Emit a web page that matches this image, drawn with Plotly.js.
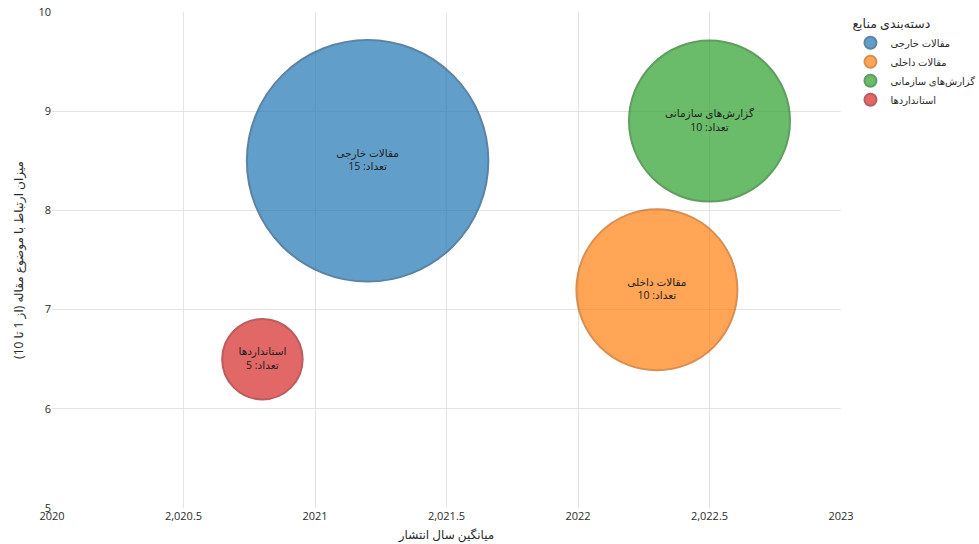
<!DOCTYPE html>
<html>
<head>
<meta charset="utf-8">
<script src="https://cdn.plot.ly/plotly-3.0.1.min.js"></script>
<style>
  html, body { margin: 0; padding: 0; background: #fff; }
  #chart { width: 979px; height: 544px; }
</style>
</head>
<body>
<div id="chart"></div>
<script>
// Source categories and their bubble data
const categories = ['مقالات خارجی', 'مقالات داخلی', 'گزارش‌های سازمانی', 'استانداردها'];
const avgYear = [2021.2, 2022.3, 2022.5, 2020.8];
const relevance = [8.5, 7.2, 8.9, 6.5];
const counts = [15, 10, 10, 5];
const colors = ['#1f77b4', '#ff7f0e', '#2ca02c', '#d62728'];
const edgeColors = ['#17507d', '#c9600a', '#1d741d', '#9e1a1b'];

const traces = categories.map((name, i) => ({
  type: 'scatter',
  mode: 'markers+text',
  name: name,
  x: [avgYear[i]],
  y: [relevance[i]],
  text: [name + '<br>تعداد: ' + counts[i]],
  textposition: 'middle center',
  textfont: { size: 10.5, color: '#1e1e1e' },
  marker: {
    size: [counts[i]],
    sizemode: 'diameter',
    sizeref: 1 / 16.1,
    color: colors[i],
    opacity: 0.7,
    line: { width: 2, color: edgeColors[i] }
  },
  hoverinfo: 'text'
}));

const layout = {
  width: 979,
  height: 544,
  margin: { l: 52, r: 138, t: 12, b: 36, autoexpand: false },
  paper_bgcolor: '#fff',
  plot_bgcolor: '#fff',
  font: { family: '"Open Sans", "DejaVu Sans", sans-serif', size: 11, color: '#2a2a2a' },
  xaxis: {
    range: [2020, 2023],
    dtick: 0.5,
    showgrid: true,
    gridcolor: '#e3e3e3',
    zeroline: false,
    showline: false,
    ticks: '',
    tickfont: { size: 11, color: '#2a2a2a' },
    title: { text: 'میانگین سال انتشار', font: { size: 12, color: '#2a2a2a' }, standoff: 8 }
  },
  yaxis: {
    range: [5, 10],
    dtick: 1,
    showgrid: true,
    gridcolor: '#e3e3e3',
    zeroline: false,
    showline: false,
    ticks: '',
    tickfont: { size: 11, color: '#2a2a2a' },
    title: { text: 'میزان ارتباط با موضوع مقاله (از 1 تا 10)', font: { size: 12, color: '#2a2a2a' }, standoff: 12 }
  },
  legend: {
    x: 1.012,
    y: 1,
    xanchor: 'left',
    yanchor: 'top',
    font: { size: 10, color: '#2a2a2a' },
    title: { text: 'دسته‌بندی منابع', font: { size: 12.5, color: '#2a2a2a' } },
    itemsizing: 'constant',
    tracegroupgap: 0
  },
  showlegend: true
};

Plotly.newPlot('chart', traces, layout, { displayModeBar: false, responsive: false });
</script>
</body>
</html>
